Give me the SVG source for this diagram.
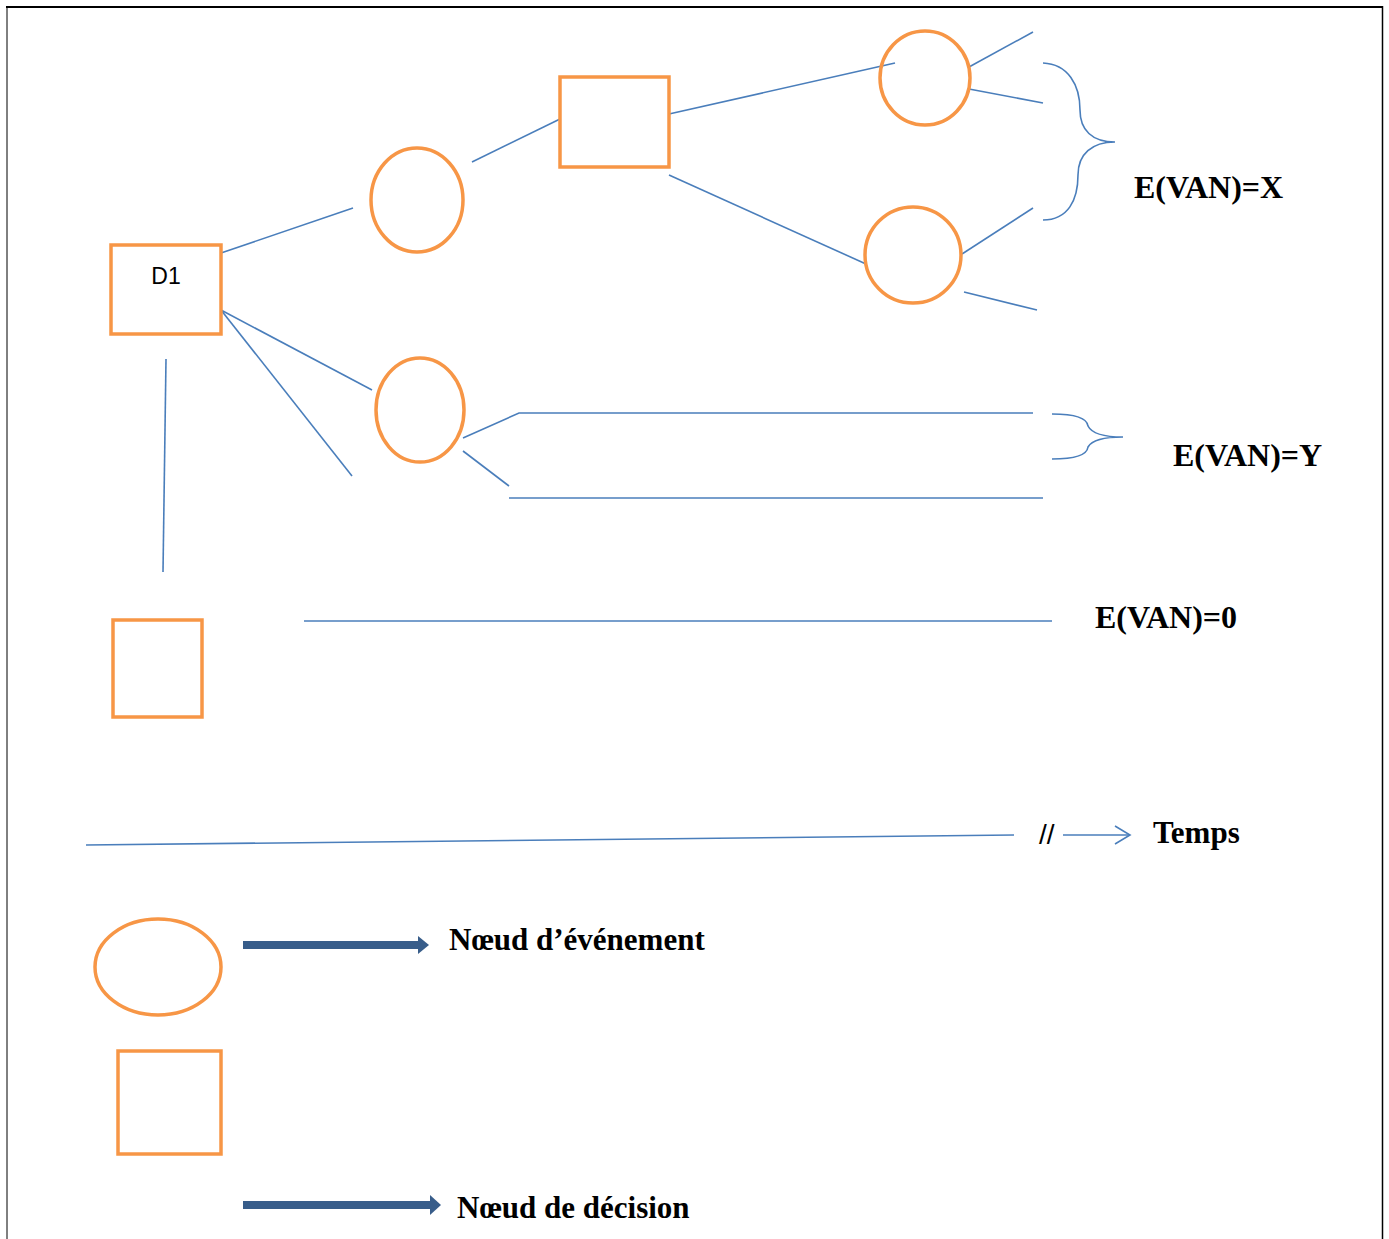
<svg xmlns="http://www.w3.org/2000/svg" width="1389" height="1239" viewBox="0 0 1389 1239">
<defs>
<style>
.n{fill:none;stroke:#F79646;stroke-width:3.5}
.c{fill:none;stroke:#4A7EBB;stroke-width:1.6}
.t{font-family:"Liberation Serif","Times New Roman",serif;font-weight:bold;font-size:31px;fill:#000}
.v{font-size:32px}
.la{fill:#385D8A}
</style>
</defs>
<rect width="1389" height="1239" fill="#fff"/>
<g id="frame">
<line x1="6" y1="7" x2="1383" y2="7" stroke="#000" stroke-width="2"/>
<line x1="7" y1="6" x2="7" y2="1239" stroke="#000" stroke-width="1"/>
<line x1="1382.5" y1="6" x2="1382.5" y2="1239" stroke="#000" stroke-width="1.5"/>
</g>
<g id="connectors">
<line class="c" x1="221" y1="253" x2="353" y2="208"/>
<line class="c" x1="472" y1="162" x2="560" y2="119"/>
<line class="c" x1="669" y1="114" x2="895" y2="63"/>
<line class="c" x1="669" y1="175" x2="866" y2="264"/>
<line class="c" x1="969" y1="67" x2="1033" y2="32"/>
<line class="c" x1="969" y1="89" x2="1043" y2="103"/>
<line class="c" x1="962" y1="254" x2="1033" y2="208"/>
<line class="c" x1="964" y1="292" x2="1037" y2="310"/>
<line class="c" x1="221" y1="310" x2="372" y2="390"/>
<line class="c" x1="221" y1="310" x2="352" y2="476"/>
<polyline class="c" points="463,438 519,413 1033,413"/>
<line class="c" x1="463" y1="451" x2="509" y2="486"/>
<line class="c" x1="509" y1="498" x2="1043" y2="498"/>
<line class="c" x1="166" y1="359" x2="163" y2="572"/>
<line class="c" x1="304" y1="621" x2="1052" y2="621"/>
<line class="c" x1="86" y1="845" x2="1014" y2="835"/>
<line class="c" x1="1063" y1="835" x2="1130" y2="835"/>
<polyline class="c" points="1115,826 1130,835 1115,844"/>
<path class="c" d="M1043,63 C1068,64 1080,85 1080,110 C1080,130 1092,142 1115,142 C1092,142 1078,154 1078,175 C1078,200 1068,220 1043,220"/>
<path class="c" d="M1052,414 C1075,414 1087,418 1088,426 C1092,434 1105,437 1123,437 C1105,437 1092,440 1088,447 C1087,455 1075,459 1052,459"/>
</g>
<g id="D1">
<rect class="n" x="111" y="245" width="110" height="89"/>
<text x="166" y="284" text-anchor="middle" font-family="Liberation Sans, Arial, sans-serif" font-size="23">D1</text>
</g>
<g id="E1"><ellipse class="n" cx="417" cy="200" rx="46" ry="52"/></g>
<g id="D2"><rect class="n" x="560" y="77" width="109" height="90"/></g>
<g id="E2"><ellipse class="n" cx="925" cy="78" rx="45" ry="47"/></g>
<g id="E3"><ellipse class="n" cx="913" cy="255" rx="48" ry="48"/></g>
<g id="E4"><ellipse class="n" cx="420" cy="410" rx="44" ry="52"/></g>
<g id="D3"><rect class="n" x="113" y="620" width="89" height="97"/></g>
<g id="labels">
<text class="t v" x="1134" y="198">E(VAN)=X</text>
<text class="t v" x="1173" y="466">E(VAN)=Y</text>
<text class="t v" x="1095" y="628">E(VAN)=0</text>
<text x="1039" y="844" font-family="Liberation Sans, Arial, sans-serif" font-size="28">//</text>
<text class="t" x="1153" y="843">Temps</text>
</g>
<g id="legend-event">
<ellipse class="n" cx="158" cy="967" rx="63" ry="48"/>
<rect class="la" x="243" y="941" width="177" height="8"/>
<polygon class="la" points="418,936 429,945 418,954"/>
<text class="t" x="449" y="950">Nœud d’événement</text>
</g>
<g id="legend-decision">
<rect class="n" x="118" y="1051" width="103" height="103"/>
<rect class="la" x="243" y="1201" width="189" height="8"/>
<polygon class="la" points="430,1195 441,1205 430,1215"/>
<text class="t" x="457" y="1218">Nœud de décision</text>
</g>
</svg>
